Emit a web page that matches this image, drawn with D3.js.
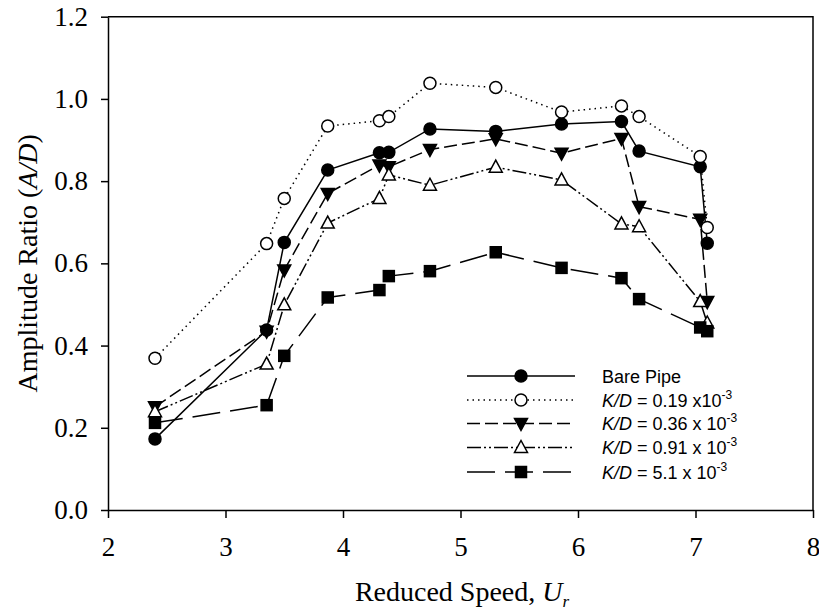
<!DOCTYPE html>
<html lang="en">
<head>
    <meta charset="UTF-8">
    <title>Amplitude Ratio vs Reduced Speed</title>
    <style>
        body { margin: 0; background: #fff; }
        svg { display: block; }
        .axis text { font-family: "Liberation Serif", "Times New Roman", serif; font-size: 27px; fill: #000; }
        .axis path, .axis line { stroke: #000; stroke-width: 1.5; }
        .title { font-family: "Liberation Serif", "Times New Roman", serif; font-size: 28px; fill: #000; }
        .legend text { font-family: "Liberation Sans", Arial, sans-serif; font-size: 18px; fill: #000; }
    </style>
    <script src="https://d3js.org/d3.v7.min.js"></script>
</head>
<body>
    <div id="chart"></div>

    <script>
        // Data
        const speeds = [2.40, 3.35, 3.50, 3.87, 4.31, 4.39, 4.74, 5.30, 5.86, 6.37, 6.52, 7.04, 7.10];
        const barePipe = [0.173, 0.438, 0.651, 0.827, 0.869, 0.870, 0.927, 0.921, 0.939, 0.945, 0.873, 0.835, 0.649];
        const kd019 = [0.369, 0.648, 0.758, 0.934, 0.947, 0.957, 1.038, 1.028, 0.968, 0.983, 0.957, 0.860, 0.687];
        const kd036 = [0.251, 0.435, 0.584, 0.770, 0.839, 0.835, 0.877, 0.903, 0.868, 0.904, 0.738, 0.707, 0.507];
        const kd091 = [0.239, 0.355, 0.499, 0.698, 0.758, 0.815, 0.790, 0.834, 0.803, 0.696, 0.689, 0.507, 0.455];
        const kd51 = [0.212, 0.255, 0.375, 0.517, 0.535, 0.569, 0.581, 0.627, 0.589, 0.564, 0.513, 0.444, 0.435];

        const xTicks = [2, 3, 4, 5, 6, 7, 8];
        const yTicks = [0, 0.2, 0.4, 0.6, 0.8, 1.0, 1.2];
        const kdLabels = ["", "0.19 x10", "0.36 x 10", "0.91 x 10", "5.1 x 10"];

        const series = [
            { name: "Bare Pipe", values: barePipe, dash: null, symbol: "circle", filled: true },
            { name: "K/D 0.19", values: kd019, dash: "1.5,4", symbol: "circle", filled: false },
            { name: "K/D 0.36", values: kd036, dash: "13,5", symbol: "triangleDown", filled: true },
            { name: "K/D 0.91", values: kd091, dash: "14,3,2,3,2,3", symbol: "triangleUp", filled: false },
            { name: "K/D 5.1", values: kd51, dash: "28,10", symbol: "square", filled: true }
        ];

        const width = 819;
        const height = 612;
        const margin = { top: 16.7, right: 6, bottom: 102, left: 108 };

        const svg = d3.select("#chart")
            .append("svg")
            .attr("width", width)
            .attr("height", height);

        const x = d3.scaleLinear().domain([2, 8]).range([margin.left, width - margin.right]);
        const y = d3.scaleLinear().domain([0, 1.2]).range([height - margin.bottom, margin.top]);

        // frame: top and right sides
        svg.append("path")
            .attr("d", `M${x(2)},${y(1.2)}H${x(8)}V${y(0)}`)
            .attr("fill", "none")
            .attr("stroke", "#000")
            .attr("stroke-width", 1.5);

        svg.append("g")
            .attr("class", "axis")
            .attr("transform", `translate(0,${y(0)})`)
            .call(d3.axisBottom(x).tickValues(xTicks).tickFormat(d3.format("d"))
                .tickSize(8).tickSizeOuter(0).tickPadding(19));

        svg.append("g")
            .attr("class", "axis")
            .attr("transform", `translate(${x(2)},0)`)
            .call(d3.axisLeft(y).tickValues(yTicks).tickFormat(d3.format(".1f"))
                .tickSize(7).tickSizeOuter(0).tickPadding(13));

        // axis titles
        const xt = svg.append("text")
            .attr("class", "title")
            .attr("x", 462)
            .attr("y", 601)
            .attr("text-anchor", "middle");
        xt.append("tspan").text("Reduced Speed, ");
        xt.append("tspan").attr("font-style", "italic").text("U");
        xt.append("tspan").attr("font-style", "italic").attr("font-size", "17px").attr("dy", 6).text("r");

        const yt = svg.append("text")
            .attr("class", "title")
            .attr("transform", `translate(37,${(y(0) + y(1.2)) / 2}) rotate(-90)`)
            .attr("text-anchor", "middle");
        yt.append("tspan").text("Amplitude Ratio (");
        yt.append("tspan").attr("font-style", "italic").text("A/D");
        yt.append("tspan").text(")");

        // symbol drawing helper
        function drawSymbol(sel, s) {
            const fill = s.filled ? "#000" : "#fff";
            if (s.symbol === "circle") {
                sel.append("circle").attr("r", 6);
            } else if (s.symbol === "square") {
                sel.append("rect").attr("x", -5.5).attr("y", -5.5).attr("width", 11).attr("height", 11);
            } else if (s.symbol === "triangleDown") {
                sel.append("path").attr("d", "M-6.5,-5L6.5,-5L0,7Z");
            } else {
                sel.append("path").attr("d", "M-6.5,5L6.5,5L0,-7Z");
            }
            sel.selectAll("*")
                .attr("fill", fill)
                .attr("stroke", "#000")
                .attr("stroke-width", 1.5);
        }

        const line = d3.line()
            .x((d, i) => x(speeds[i]))
            .y(d => y(d));

        series.forEach(s => {
            const g = svg.append("g");
            g.append("path")
                .datum(s.values)
                .attr("d", line)
                .attr("fill", "none")
                .attr("stroke", "#000")
                .attr("stroke-width", 1.5)
                .attr("stroke-dasharray", s.dash);

            g.selectAll("g.pt")
                .data(s.values)
                .enter().append("g")
                .attr("class", "pt")
                .attr("transform", (d, i) => `translate(${x(speeds[i])},${y(d)})`)
                .each(function () { drawSymbol(d3.select(this), s); });
        });

        // legend
        const legend = svg.append("g").attr("class", "legend");
        const rowY = [376, 400, 423.5, 447.5, 472];

        series.forEach((s, i) => {
            const row = legend.append("g").attr("transform", `translate(0,${rowY[i]})`);
            row.append("line")
                .attr("x1", 467).attr("x2", 575)
                .attr("stroke", "#000")
                .attr("stroke-width", 1.5)
                .attr("stroke-dasharray", s.dash);
            const m = row.append("g").attr("transform", "translate(521,0)");
            drawSymbol(m, s);

            const t = row.append("text").attr("x", 602).attr("y", 6.5);
            if (i === 0) {
                t.text(s.name);
            } else {
                t.append("tspan").attr("font-style", "italic").text("K/D");
                t.append("tspan").text(" = " + kdLabels[i]);
                t.append("tspan").attr("font-size", "12px").attr("dy", -8).text("-3");
            }
        });
    </script>
</body>
</html>
